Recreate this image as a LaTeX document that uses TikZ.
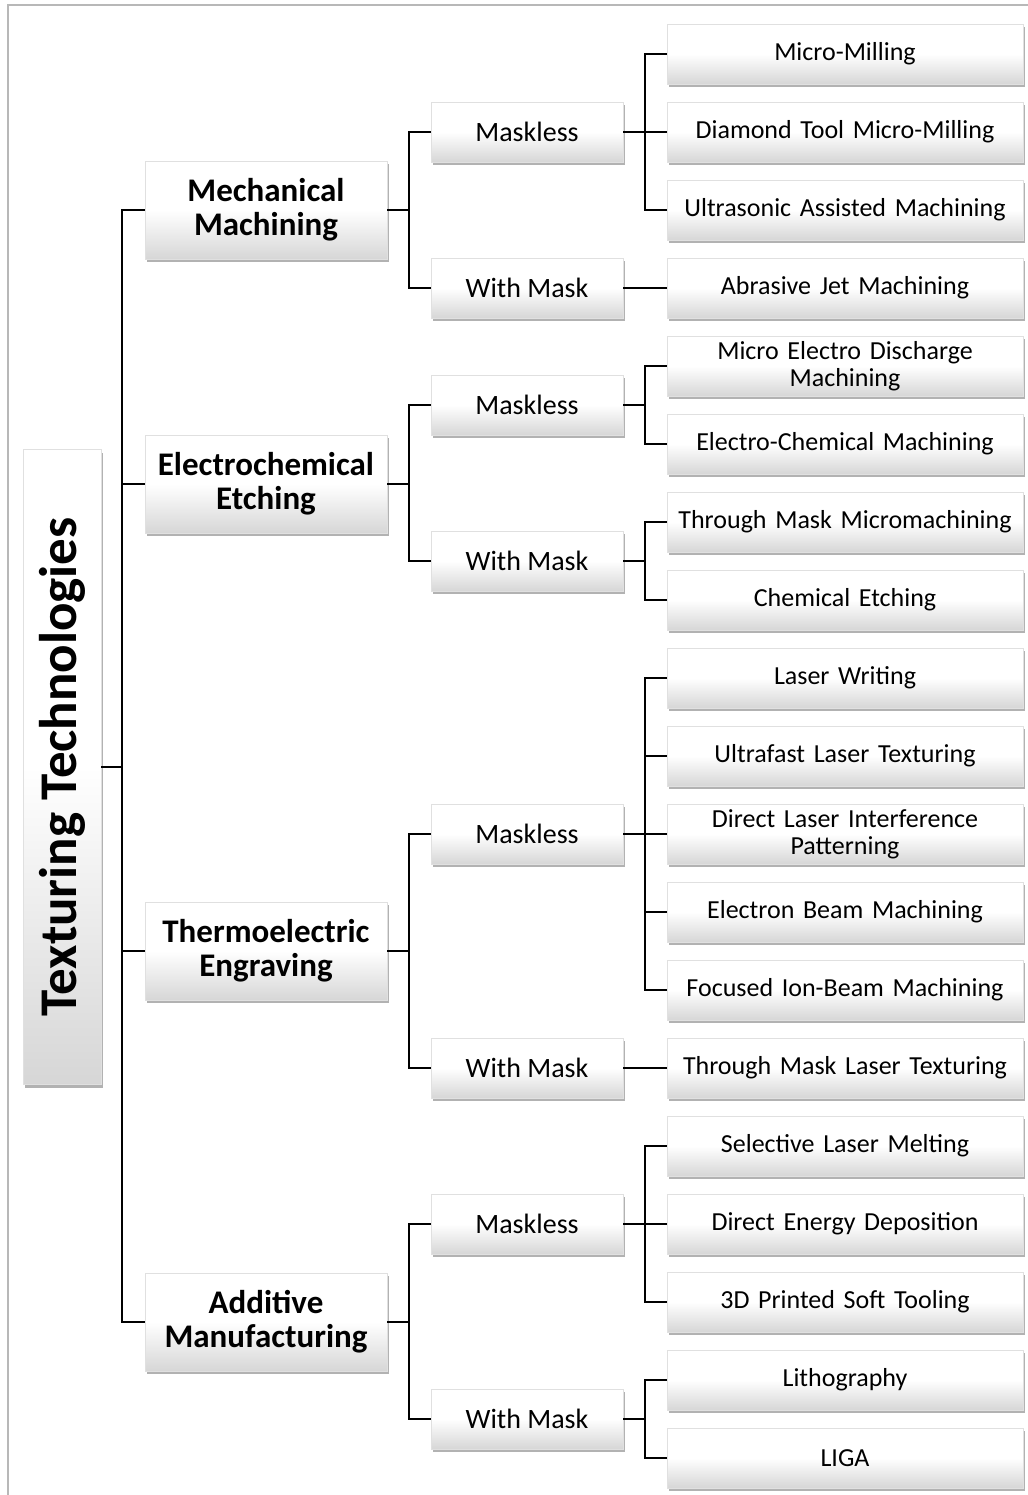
\documentclass[tikz,border=0pt]{standalone}
\usepackage{fontspec}
\setmainfont{Carlito}
\usetikzlibrary{shadows}
\tikzset{
  box/.style={draw=black!12, line width=0.6pt, top color=white, bottom color=black!16, middle color=white,
    drop shadow={shadow xshift=2pt, shadow yshift=-3pt, fill=black!55, opacity=0.55},
    inner sep=2pt, align=center},
  leafbox/.style={box, minimum width=356, minimum height=60, text width=350,
    font=\fontsize{26}{27}\selectfont},
  midbox/.style={box, minimum width=192, minimum height=60, font=\fontsize{28}{30}\selectfont},
  catbox/.style={box, minimum width=242, minimum height=98, font=\bfseries\fontsize{33}{34}\selectfont},
  conn/.style={draw=black, line width=1.8pt},
}
\begin{document}
\begin{tikzpicture}[x=1pt, y=-1pt]
\useasboundingbox (0,0) rectangle (1027,1495);
\draw[black!28, line width=2.2pt] (8,1510) -- (8,5) -- (1040,5);

% root
\node[box, minimum width=78, minimum height=635] (root) at (62,767) {};
\node[rotate=90, font=\bfseries\fontsize{53}{56}\selectfont] (roottext) at (root.center) {Texturing Technologies};

% categories
\node[catbox] (c1) at (266,210) {Mechanical\\Machining};
\node[catbox] (c2) at (266,484) {Electrochemical\\Etching};
\node[catbox] (c3) at (266,951) {Thermoelectric\\Engraving};
\node[catbox] (c4) at (266,1322) {Additive\\Manufacturing};

% middle
\node[midbox] (m1) at (527,132) {Maskless};
\node[midbox] (w1) at (527,288) {With Mask};
\node[midbox] (m2) at (527,405) {Maskless};
\node[midbox] (w2) at (527,561) {With Mask};
\node[midbox] (m3) at (527,834) {Maskless};
\node[midbox] (w3) at (527,1068) {With Mask};
\node[midbox] (m4) at (527,1224) {Maskless};
\node[midbox] (w4) at (527,1419) {With Mask};

% leaves
\node[leafbox] (l1) at (845,54) {Micro-Milling};
\node[leafbox] (l2) at (845,132) {Diamond Tool Micro-Milling};
\node[leafbox] (l3) at (845,210) {Ultrasonic Assisted Machining};
\node[leafbox] (l4) at (845,288) {Abrasive Jet Machining};
\node[leafbox] (l5) at (845,366) {Micro Electro Discharge\\Machining};
\node[leafbox] (l6) at (845,444) {Electro-Chemical Machining};
\node[leafbox] (l7) at (845,522) {Through Mask Micromachining};
\node[leafbox] (l8) at (845,600) {Chemical Etching};
\node[leafbox] (l9) at (845,678) {Laser Writing};
\node[leafbox] (l10) at (845,756) {Ultrafast Laser Texturing};
\node[leafbox] (l11) at (845,834) {Direct Laser Interference\\Patterning};
\node[leafbox] (l12) at (845,912) {Electron Beam Machining};
\node[leafbox] (l13) at (845,990) {Focused Ion-Beam Machining};
\node[leafbox] (l14) at (845,1068) {Through Mask Laser Texturing};
\node[leafbox] (l15) at (845,1146) {Selective Laser Melting};
\node[leafbox] (l16) at (845,1224) {Direct Energy Deposition};
\node[leafbox] (l17) at (845,1302) {3D Printed Soft Tooling};
\node[leafbox] (l18) at (845,1380) {Lithography};
\node[leafbox] (l19) at (845,1458) {LIGA};

% connectors
\foreach \c in {c1,c2,c3,c4} \draw[conn] (root.east) -- ++(21,0) |- (\c.west);
\foreach \a/\b in {c1/m1,c1/w1,c2/m2,c2/w2,c3/m3,c3/w3,c4/m4,c4/w4}
  \draw[conn] (\a.east) -- ++(22,0) |- (\b.west);
\foreach \a/\b in {m1/l1,m1/l2,m1/l3,w1/l4,m2/l5,m2/l6,w2/l7,w2/l8,
  m3/l9,m3/l10,m3/l11,m3/l12,m3/l13,w3/l14,m4/l15,m4/l16,m4/l17,w4/l18,w4/l19}
  \draw[conn] (\a.east) -- ++(22,0) |- (\b.west);
\end{tikzpicture}
\end{document}
